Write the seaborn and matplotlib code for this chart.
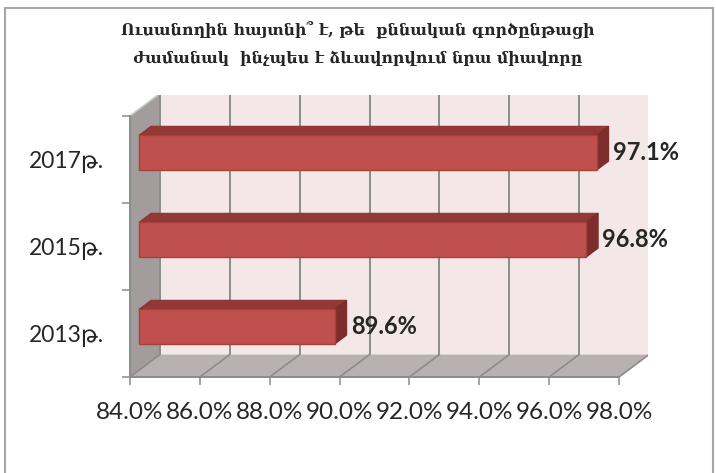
import pandas as pd
import matplotlib.pyplot as plt
import seaborn as sns
from matplotlib.patches import Polygon, Rectangle

# --- Data ---
years = ['2017թ.', '2015թ.', '2013թ.']
shares = [97.1, 96.8, 89.6]
x_ticks = [84, 86, 88, 90, 92, 94, 96, 98]
title = "Ուսանողին հայտնի՞ է, թե  քննական գործընթացի\nժամանակ  ինչպես է ձևավորվում նրա միավորը"

df = pd.DataFrame({'year': years, 'share': shares})

# --- 3D look (depth vector in data units) ---
X0, X1 = x_ticks[0], x_ticks[-1]
DX, DY = 0.86, 0.259
FRONT, DEPTH = 0.3, 0.4
wall_c, floor_c, side_c = '#f3e7e7', '#b9b1b1', '#a29c9c'
grid_c = '#8c8c8c'
bar_c, top_c, right_c = '#c0504d', '#923836', '#7d2e2c'
fonts = ['Lato', 'DejaVu Sans']

sns.set_style('white')
fig = plt.figure(figsize=(7.16, 4.73), dpi=100)
ax = fig.add_axes([130/716, 96/473, 518/716, 282/473])

sns.barplot(data=df, x='share', y='year', orient='h', color=bar_c,
            saturation=1, width=0.4, ax=ax, zorder=5)
bars = list(ax.patches)

ax.set_xlim(X0, X0 + 518/34.93)
ax.set_ylim(2.5, 2.5 - 282/87)
y_top, y_bot = -0.5, 2.5

# back wall, floor, side wall
ax.add_patch(Polygon([(X0+DX, y_top-DY), (X1+DX, y_top-DY), (X1+DX, y_bot-DY), (X0+DX, y_bot-DY)],
                     closed=True, fc=wall_c, ec='none', zorder=1))
ax.add_patch(Polygon([(X0, y_bot), (X1, y_bot), (X1+DX, y_bot-DY), (X0+DX, y_bot-DY)],
                     closed=True, fc=floor_c, ec='none', zorder=1))
ax.add_patch(Polygon([(X0, y_top), (X0, y_bot), (X0+DX, y_bot-DY), (X0+DX, y_top-DY)],
                     closed=True, fc=side_c, ec='none', zorder=1))

# grid lines on wall and floor
for t in x_ticks:
    ax.plot([t+DX, t+DX], [y_bot-DY, y_top-DY], color=grid_c, lw=1.4, zorder=2)
    ax.plot([t, t+DX], [y_bot, y_bot-DY], color=grid_c, lw=1.2, zorder=2)
ax.plot([X0, X0+DX], [y_top, y_top-DY], color='#c8c4c4', lw=1.2, zorder=2)

# bars: shift into depth and add top / right faces
for p in bars:
    v = p.get_width()
    h = p.get_height()
    xl = X0 + FRONT*DX
    xr = v + FRONT*DX
    yt = p.get_y() - FRONT*DY
    p.set_x(xl)
    p.set_width(v - X0)
    p.set_y(yt)
    p.set_edgecolor('#a5403d')
    p.set_linewidth(1)
    ax.add_patch(Polygon([(xl, yt), (xr, yt), (xr+DEPTH*DX, yt-DEPTH*DY), (xl+DEPTH*DX, yt-DEPTH*DY)],
                         closed=True, fc=top_c, ec='#8a3432', lw=0.8, zorder=4))
    ax.add_patch(Polygon([(xr, yt), (xr, yt+h), (xr+DEPTH*DX, yt+h-DEPTH*DY), (xr+DEPTH*DX, yt-DEPTH*DY)],
                         closed=True, fc=right_c, ec='#7a2c2a', lw=0.8, zorder=4))
    ax.text(xr + DEPTH*DX + 0.12, yt + h/2, f'{v:.1f}%', ha='left', va='center',
            fontsize=17, fontweight='bold', family=fonts, zorder=6)

# axes / ticks
for s in ['top', 'right']:
    ax.spines[s].set_visible(False)
ax.spines['bottom'].set_bounds(X0, X1)
ax.spines['left'].set_bounds(y_top, y_bot)
for s in ['bottom', 'left']:
    ax.spines[s].set_color(grid_c)
    ax.spines[s].set_linewidth(1.4)
    ax.spines[s].set_zorder(3)

ax.set_xticks(x_ticks)
ax.set_xticklabels([f'{t:.1f}%' for t in x_ticks])
ax.tick_params(axis='x', length=6, width=1.1, color=grid_c, pad=12, labelsize=17.5, bottom=True)
ax.set_yticks([0, 1, 2])
ax.set_yticks([-0.5, 0.5, 1.5, 2.5], minor=True)
ax.tick_params(axis='y', which='major', length=0, pad=19, labelsize=16.5)
ax.tick_params(axis='y', which='minor', length=6, width=1.1, color=grid_c, left=True)
for lab in ax.get_xticklabels() + ax.get_yticklabels():
    lab.set_family(fonts)
ax.set_xlabel('')
ax.set_ylabel('')
ax.patch.set_alpha(0)

fig.text(0.5, 1 - 44/473, title, ha='center', va='center', fontsize=11.3,
         fontweight='bold', family=['DejaVu Serif', 'DejaVu Sans'], linespacing=1.9)

# chart border
fig.patches.append(Rectangle((5/716, -0.1), 708/716, 1.1 - 8/473, transform=fig.transFigure,
                             fill=False, ec='#a6a6a6', lw=1.5, zorder=0))

plt.savefig('out.png', dpi=100)
plt.close()
